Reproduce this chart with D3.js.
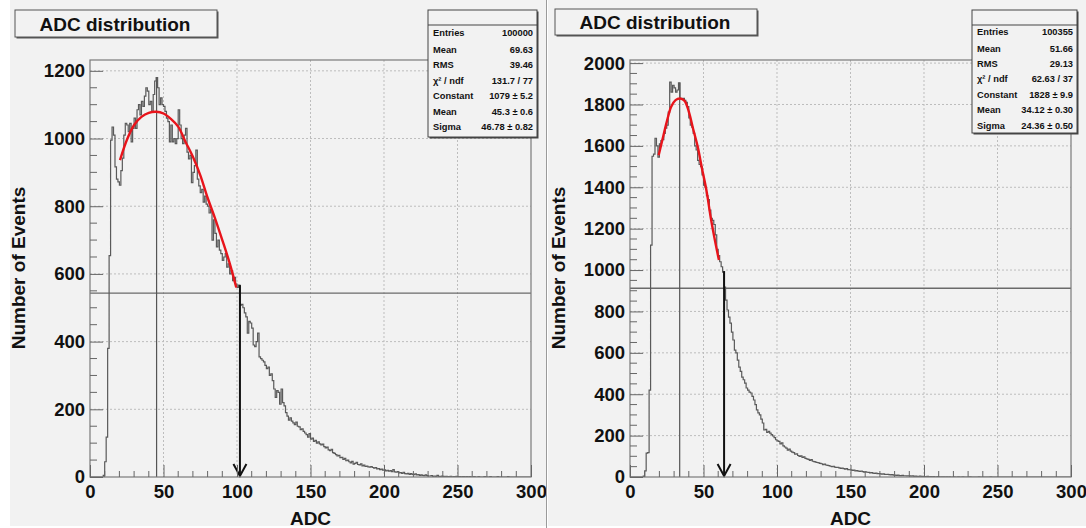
<!DOCTYPE html>
<html>
<head>
<meta charset="utf-8">
<script src="https://cdn.jsdelivr.net/npm/d3@7"></script>
<style>
  html, body { margin: 0; padding: 0; background: #fff; }
  svg { display: block; font-family: "Liberation Sans", Arial, sans-serif; }
</style>
</head>
<body>
<svg id="chart" width="1086" height="528"></svg>
<script>
// === DATA ===
// counts per ADC bin, bin i covers [i, i+1)
const leftCounts = [
  0,0,0,0,0,0,0,0,0,5, 45,118,380,654,995,1034,1010,916,880,872,
  862,905,942,1010,1045,1040,1020,1045,990,1030, 1060,1030,1085,1100,1070,1110,1095,1125,1150,1140,
  1100,1110,1080,1130,1170,1180,1150,1100,1120,1100, 1095,1080,1060,1050,990,1040,990,1000,985,1000,
  1085,1040,1000,985,1010,1030,960,940,950,870, 900,920,966,880,860,840,850,812,830,806,
  800,780,790,700,760,720,680,700,670,660, 640,650,660,620,630,600,610,580,590,570,
  560,567,508,510,500,485,473,425,460,455, 440,390,385,400,425,355,350,345,340,330,
  320,325,300,305,285,260,235,255,250,215, 260,220,210,190,180,168,175,165,160,155,
  162,150,148,140,142,135,130,125,118,128, 112,115,105,108,100,104,98,95,97,90,
  86,88,80,78,82,72,70,66,62,64, 57,58,52,55,48,50,45,42,46,38,
  40,43,37,36,39,33,35,31,32,30, 29,31,28,26,28,24,25,22,23,20,
  21,18,20,17,19,16,22,15,14,16, 12,13,11,14,10,9,11,8,10,8,
  7,9,6,7,5,6,5,4,6,4, 3,3,4,2,3,2,5,2,1,3,
  2,1,2,1,1,2,0,1,1,2, 1,1,0,1,1,0,1,0,1,0,
  0,1,0,0,1,0,0,0,1,0, 0,0,1,0,0,0,0,1,0,0,
  0,0,0,0,1,0,0,0,0,0, 0,0,0,0,0,0,0,0,0,0
];
const rightCounts = [
  0,0,0,0,0,0,0,0,0,4, 30,115,118,420,1120,1550,1560,1637,1600,1546,
  1610,1625,1630,1660,1686,1700,1763,1908,1860,1893, 1880,1860,1870,1905,1830,1825,1830,1820,1810,1790,
  1735,1700,1690,1660,1600,1580,1530,1510,1500,1460, 1410,1400,1360,1340,1290,1250,1240,1220,1170,1100,
  1070,1040,1016,990,918,855,807,773,744,700, 662,613,600,565,531,510,483,470,454,430,
  420,410,406,390,372,350,324,310,300,280, 261,227,230,215,220,212,205,198,190,180,
  175,172,160,165,150,145,140,130,135,125, 120,118,110,112,104,100,102,95,97,90,
  88,85,80,84,76,74,72,70,68,66, 64,60,62,58,56,55,52,50,52,48,
  46,47,44,42,43,40,38,40,36,35, 34,32,33,30,31,28,27,29,26,24,
  25,23,22,20,21,19,18,19,16,17, 15,14,15,13,12,13,11,10,11,9,
  9,8,9,7,7,8,6,6,5,6, 5,4,5,3,4,3,3,4,2,3,
  2,2,3,1,2,1,2,1,1,2, 1,0,1,1,0,1,0,1,0,0,
  1,0,0,1,0,0,1,0,0,0, 0,1,0,0,0,0,0,1,0,0,
  0,0,0,0,0,1,0,0,0,0, 0,0,0,0,0,0,0,0,0,0,
  0,0,0,0,0,0,0,0,0,0, 0,0,0,0,0,0,0,0,0,0,
  0,0,0,0,0,0,0,0,0,0, 0,0,0,0,0,0,0,0,0,0
];

// red fit curve
const leftFitAdc = [20.4, 25, 30, 35, 40, 45, 50, 55, 60, 65, 70, 75, 80, 85, 90, 95, 99.5];
const leftFitVal = [936, 995, 1040, 1064, 1076, 1079, 1074, 1058, 1035, 990, 946, 892, 825, 765, 700, 632, 560];
const rightFitAdc = [19.5, 22, 25, 28, 31, 34, 37, 40, 43, 46, 49, 52, 55, 58, 60.5];
const rightFitVal = [1555, 1628, 1716, 1789, 1821, 1829, 1819, 1766, 1680, 1598, 1490, 1385, 1250, 1135, 1048];

// markers: solid line at the fit mean, horizontal cut level, arrow at the cut
const leftMarkers = { meanAdc: 45.3, meanTop: 1180, cutLevel: 543, arrowAdc: 102, arrowTop: 567 };
const rightMarkers = { meanAdc: 33.8, meanTop: 1905, cutLevel: 912, arrowAdc: 64, arrowTop: 995 };

const xTicks = [0, 50, 100, 150, 200, 250, 300];
const leftYTicks = [0, 200, 400, 600, 800, 1000, 1200];
const rightYTicks = [0, 200, 400, 600, 800, 1000, 1200, 1400, 1600, 1800, 2000];

const statLabels = ["Entries", "Mean", "RMS", "\u03C7\u00B2 / ndf", "Constant", "Mean", "Sigma"];
const leftStatValues = ["100000", "69.63", "39.46", "131.7 / 77", "1079 \u00B1 5.2", "45.3 \u00B1 0.6", "46.78 \u00B1 0.82"];
const rightStatValues = ["100355", "51.66", "29.13", "62.63 / 37", "1828 \u00B1 9.9", "34.12 \u00B1 0.30", "24.36 \u00B1 0.50"];

const titleText = "ADC distribution";
const xTitle = "ADC";
const yTitle = "Number of Events";

// === LAYOUT ===
const svg = d3.select("#chart");
const padFill = "#f2f2f2";

const panels = [
  { dx: 0, counts: leftCounts, fitX: leftFitAdc, fitY: leftFitVal, m: leftMarkers,
    yMax: 1232, yTicks: leftYTicks, stats: leftStatValues,
    padX: 10, padW: 536, title: [15, 10, 202, 27], box: [428, 10, 109, 127], rows: [33, 49.5, 65, 80.5, 96, 111.5, 127] },
  { dx: 540, counts: rightCounts, fitX: rightFitAdc, fitY: rightFitVal, m: rightMarkers,
    yMax: 2015, yTicks: rightYTicks, stats: rightStatValues,
    padX: 548, padW: 538, title: [555, 9, 202, 26], box: [972, 10, 105, 123], rows: [32, 48.5, 63.5, 79, 94.5, 110, 126] }
];

svg.append("rect").attr("width", 1086).attr("height", 528).attr("fill", "#fff");

panels.forEach(p => {
  const x0 = 90 + p.dx, x1 = 531 + p.dx, yTop = 60, yBot = 477;
  const x = d3.scaleLinear().domain([0, 300]).range([x0, x1]);
  const y = d3.scaleLinear().domain([0, p.yMax]).range([yBot, yTop]);

  const g = svg.append("g");
  g.append("rect").attr("x", p.padX).attr("y", 0).attr("width", p.padW).attr("height", 526).attr("fill", padFill);

  // grid
  g.selectAll(".gx").data(xTicks.slice(1, -1)).enter().append("line")
    .attr("x1", d => x(d)).attr("x2", d => x(d)).attr("y1", yTop).attr("y2", yBot)
    .attr("stroke", "#bdbdbd").attr("stroke-width", 1).attr("stroke-dasharray", "2,2");
  g.selectAll(".gy").data(p.yTicks.slice(1).filter(d => y(d) > yTop + 1)).enter().append("line")
    .attr("x1", x0).attr("x2", x1).attr("y1", d => y(d)).attr("y2", d => y(d))
    .attr("stroke", "#bdbdbd").attr("stroke-width", 1).attr("stroke-dasharray", "2,2");

  // clip for marks
  const clipId = "clip" + p.dx;
  svg.append("clipPath").attr("id", clipId).append("rect")
    .attr("x", x0).attr("y", yTop).attr("width", x1 - x0).attr("height", yBot - yTop);
  const plot = g.append("g").attr("clip-path", "url(#" + clipId + ")");

  // horizontal cut level
  plot.append("line").attr("x1", x0).attr("x2", x1)
    .attr("y1", y(p.m.cutLevel)).attr("y2", y(p.m.cutLevel))
    .attr("stroke", "#6a6a6a").attr("stroke-width", 1.3);

  // mean line
  plot.append("line").attr("x1", x(p.m.meanAdc)).attr("x2", x(p.m.meanAdc))
    .attr("y1", y(p.m.meanTop)).attr("y2", yBot)
    .attr("stroke", "#555").attr("stroke-width", 1.2);

  // histogram outline
  const pts = p.counts.map((v, i) => [i, v]);
  pts.unshift([0, 0]);
  pts.push([300, p.counts[p.counts.length - 1]]);
  const step = d3.line().x(d => x(d[0])).y(d => y(d[1])).curve(d3.curveStepAfter);
  plot.append("path").attr("d", step(pts)).attr("fill", "none")
    .attr("stroke", "#5a5a5a").attr("stroke-width", 1.2);

  // fit curve
  const fit = d3.line().x(d => x(d[0])).y(d => y(d[1])).curve(d3.curveCatmullRom);
  plot.append("path").attr("d", fit(p.fitX.map((a, i) => [a, p.fitY[i]])))
    .attr("fill", "none").attr("stroke", "#e8141b").attr("stroke-width", 2.4);

  // arrow at the cut
  const ax = x(p.m.arrowAdc);
  g.append("line").attr("x1", ax).attr("x2", ax).attr("y1", y(p.m.arrowTop)).attr("y2", yBot - 1)
    .attr("stroke", "#111").attr("stroke-width", 2);
  g.append("path").attr("d", `M${ax - 6.5},${yBot - 13} L${ax},${yBot - 1} L${ax + 6.5},${yBot - 13}`)
    .attr("fill", "none").attr("stroke", "#111").attr("stroke-width", 2);

  // frame
  g.append("rect").attr("x", x0).attr("y", yTop).attr("width", x1 - x0).attr("height", yBot - yTop)
    .attr("fill", "none").attr("stroke", "#7a7a7a").attr("stroke-width", 1.2);

  // minor ticks
  const xMinor = d3.range(0, 301, 10).filter(d => d % 50 !== 0);
  g.selectAll(".mx").data(xMinor).enter().append("line")
    .attr("x1", d => x(d)).attr("x2", d => x(d)).attr("y1", yBot).attr("y2", yBot - 6)
    .attr("stroke", "#666");
  const yMinor = d3.range(0, p.yMax, 50).filter(d => d % 200 !== 0);
  g.selectAll(".my").data(yMinor).enter().append("line")
    .attr("x1", x0).attr("x2", x0 + 7).attr("y1", d => y(d)).attr("y2", d => y(d))
    .attr("stroke", "#666");

  // axes
  const xAxis = d3.axisBottom(x).tickValues(xTicks).tickFormat(d3.format("d"))
    .tickSize(-12).tickSizeOuter(0).tickPadding(8);
  const xg = g.append("g").attr("transform", `translate(0,${yBot})`).call(xAxis);
  const yAxis = d3.axisLeft(y).tickValues(p.yTicks).tickFormat(d3.format("d"))
    .tickSize(-13).tickSizeOuter(0).tickPadding(5);
  const yg = g.append("g").attr("transform", `translate(${x0},0)`).call(yAxis);
  [xg, yg].forEach(a => {
    a.select(".domain").remove();
    a.selectAll(".tick line").attr("stroke", "#666");
    a.selectAll(".tick text").attr("fill", "#111").attr("font-size", 18.5).attr("font-weight", "bold")
      .attr("font-family", "'Liberation Sans', Arial, sans-serif");
  });

  // axis titles
  g.append("text").attr("x", (x0 + x1) / 2).attr("y", 525).attr("text-anchor", "middle")
    .attr("font-size", 19).attr("font-weight", "bold").attr("fill", "#111").text(xTitle);
  g.append("text").attr("transform", `translate(${25 + p.dx},268) rotate(-90)`)
    .attr("text-anchor", "middle").attr("font-size", 19).attr("font-weight", "bold")
    .attr("fill", "#111").text(yTitle);

  // title box
  const [tx, ty, tw, th] = p.title;
  g.append("rect").attr("x", tx + 1.5).attr("y", ty + 1.5).attr("width", tw).attr("height", th).attr("fill", "#555");
  g.append("rect").attr("x", tx).attr("y", ty).attr("width", tw).attr("height", th)
    .attr("fill", padFill).attr("stroke", "#555").attr("stroke-width", 1);
  g.append("text").attr("x", tx + tw / 2 - 1).attr("y", ty + th / 2 + 7).attr("text-anchor", "middle")
    .attr("font-size", 19).attr("font-weight", "bold").attr("fill", "#111").text(titleText);

  // stats box
  const [bx, by, bw, bh] = p.box;
  g.append("rect").attr("x", bx + 1.5).attr("y", by + 1.5).attr("width", bw).attr("height", bh).attr("fill", "#444");
  g.append("rect").attr("x", bx).attr("y", by).attr("width", bw).attr("height", bh)
    .attr("fill", padFill).attr("stroke", "#444").attr("stroke-width", 1);
  g.append("line").attr("x1", bx).attr("x2", bx + bw).attr("y1", by + 15).attr("y2", by + 15)
    .attr("stroke", "#444");
  statLabels.forEach((lab, i) => {
    g.append("text").attr("x", bx + 5).attr("y", p.rows[i] + 3.3)
      .attr("font-size", 9.3).attr("font-weight", "bold").attr("fill", "#111").text(lab);
    g.append("text").attr("x", bx + bw - 4).attr("y", p.rows[i] + 3.3).attr("text-anchor", "end")
      .attr("font-size", 9.3).attr("font-weight", "bold").attr("fill", "#111").text(p.stats[i]);
  });
});

// separator between the two pads
svg.append("line").attr("x1", 546.5).attr("x2", 546.5).attr("y1", 0).attr("y2", 528)
  .attr("stroke", "#9a9a9a").attr("stroke-width", 1);
</script>
</body>
</html>
